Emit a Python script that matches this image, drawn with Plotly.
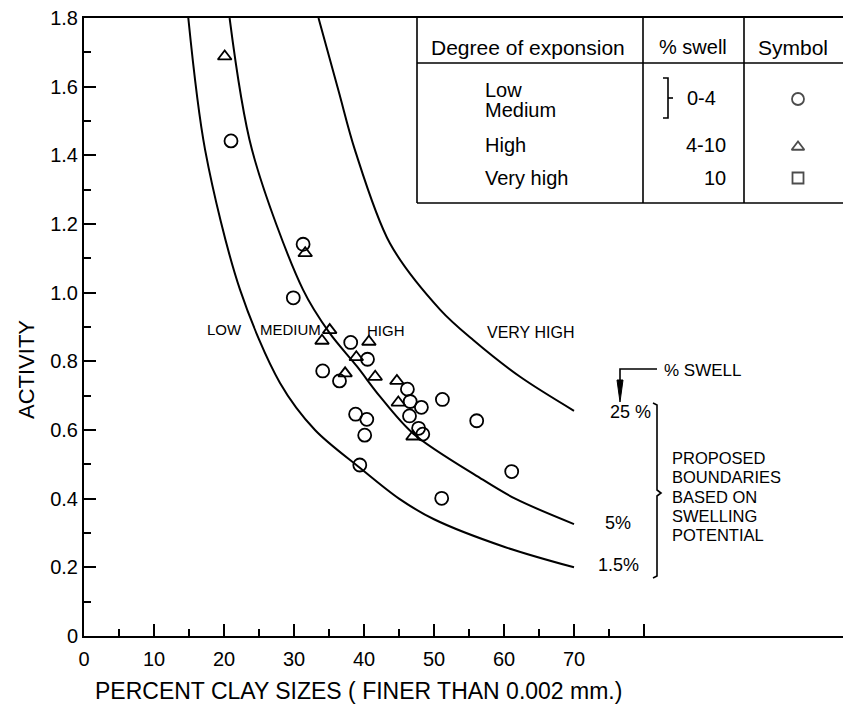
import plotly.graph_objects as go

# ---- swell-potential boundary curves (percent clay, activity) ----
clay_swell_1_5 = [14.9, 17.3, 22.3, 28.0, 33.0, 39.4, 45.0, 50.0, 60.0, 70.0]
act_swell_1_5 = [1.80, 1.416, 1.008, 0.737, 0.60, 0.49, 0.40, 0.34, 0.26, 0.20]

clay_swell_5 = [20.8, 24.0, 31.3, 35.1, 39.0, 42.3, 47.0, 56.6, 61.6, 70.0]
act_swell_5 = [1.80, 1.416, 1.008, 0.882, 0.785, 0.697, 0.590, 0.460, 0.400, 0.326]

clay_swell_25 = [33.5, 36.4, 38.7, 43.7, 50.9, 55.6, 62.3, 70.0]
act_swell_25 = [1.80, 1.585, 1.416, 1.144, 0.950, 0.862, 0.755, 0.656]

# ---- test results ----
# low / medium expansion (circles)
circle_clay = [21.0, 31.3, 29.9, 38.1, 40.5, 34.1, 36.5, 46.2, 46.6, 48.2, 51.2,
               46.5, 38.8, 40.4, 40.1, 47.8, 48.4, 39.4, 56.1, 61.1, 51.1]
circle_act = [1.442, 1.141, 0.985, 0.855, 0.806, 0.772, 0.743, 0.719, 0.683, 0.666, 0.689,
              0.641, 0.646, 0.631, 0.585, 0.605, 0.588, 0.498, 0.627, 0.479, 0.401]
# high expansion (triangles)
tri_clay = [20.1, 31.6, 35.1, 34.0, 40.7, 38.9, 37.3, 41.6, 44.7, 44.9, 47.0]
tri_act = [1.688, 1.115, 0.891, 0.860, 0.857, 0.812, 0.765, 0.755, 0.743, 0.680, 0.581]

# ---- axes ----
x_ticks = [0, 10, 20, 30, 40, 50, 60, 70, 80]
x_tick_text = ["0", "10", "20", "30", "40", "50", "60", "70", ""]
x_minor = [5, 15, 25, 35, 45, 55, 65, 75]
y_ticks = [0, 0.2, 0.4, 0.6, 0.8, 1.0, 1.2, 1.4, 1.6, 1.8]
y_tick_text = ["0", "0.2", "0.4", "0.6", "0.8", "1.0", "1.2", "1.4", "1.6", "1.8"]
y_minor = [0.1, 0.3, 0.5, 0.7, 0.9, 1.1, 1.3, 1.5, 1.7]

# ---- page geometry (pixels) ----
W, H = 843, 707
L, R, T, B = 84, 0, 18, 71
PX_PER_X = 7.0
X_MAX = (W - L - R) / PX_PER_X
Y_MAX = 1.8
PX_PER_Y = (H - T - B) / Y_MAX

FONT = "Liberation Sans, Arial, Helvetica, sans-serif"


def X(px):
    return (px - L) / PX_PER_X


def Y(py):
    return (H - B - py) / PX_PER_Y


def PX(px):
    return (px - L) / (W - L - R)


def PY(py):
    return (H - B - py) / (H - T - B)


def path(points, close=False):
    s = "M " + " L ".join(f"{X(a):.4f},{Y(b):.4f}" for a, b in points)
    return s + (" Z" if close else "")


fig = go.Figure()

line_style = dict(color="black", width=2, shape="spline", smoothing=0.9)
for cx, cy in [(clay_swell_1_5, act_swell_1_5), (clay_swell_5, act_swell_5),
               (clay_swell_25, act_swell_25)]:
    fig.add_trace(go.Scatter(x=cx, y=cy, mode="lines", line=line_style,
                             hoverinfo="skip", showlegend=False))

fig.add_trace(go.Scatter(
    x=circle_clay, y=circle_act, mode="markers", showlegend=False,
    marker=dict(symbol="circle-open", size=13, color="black", line=dict(width=1.8))))
fig.add_trace(go.Scatter(
    x=tri_clay, y=tri_act, mode="markers", showlegend=False,
    marker=dict(symbol="triangle-up-open", size=12, color="black", line=dict(width=1.8))))

# key symbols inside the table
fig.add_trace(go.Scatter(
    x=[X(798), X(798), X(798)], y=[Y(99), Y(147), Y(178)], mode="markers",
    showlegend=False, cliponaxis=False, hoverinfo="skip",
    marker=dict(symbol=["circle-open", "triangle-up-open", "square-open"],
                size=[12, 11, 11], color="black", line=dict(width=1.8))))

shapes = []
lw = dict(color="black", width=1.6)
# table frame
shapes.append(dict(type="line", x0=X(417), x1=X(417), y0=Y(18), y1=Y(203), line=lw))
shapes.append(dict(type="line", x0=X(417), x1=X(843), y0=Y(203), y1=Y(203), line=lw))
shapes.append(dict(type="line", x0=X(417), x1=X(843), y0=Y(63), y1=Y(63), line=lw))
shapes.append(dict(type="line", x0=X(643), x1=X(643), y0=Y(18), y1=Y(203), line=lw))
shapes.append(dict(type="line", x0=X(744), x1=X(744), y0=Y(18), y1=Y(203), line=lw))
# bracket grouping Low / Medium
shapes.append(dict(type="path", path=path([(663, 78), (668, 78), (668, 118), (663, 118)]), line=lw))
shapes.append(dict(type="path", path=path([(668, 98), (673, 98)]), line=lw))
# "% SWELL" pointer
shapes.append(dict(type="path", path=path([(657, 369), (620, 369), (620, 392)]), line=lw))
shapes.append(dict(type="path", path=path([(617, 380), (623, 380), (620, 402)], close=True),
                   line=dict(color="black", width=1), fillcolor="black"))
# brace for the proposed boundaries
shapes.append(dict(type="path",
                   path=path([(653, 403), (657, 405), (657, 490), (661, 493), (657, 496),
                              (657, 576), (653, 578)]), line=lw))

ann = []


def text(px, py, s, size, xanchor="center", yanchor="middle", angle=0, paper=False):
    if paper:
        pos = dict(x=PX(px), y=PY(py), xref="paper", yref="paper")
    else:
        pos = dict(x=X(px), y=Y(py), xref="x", yref="y")
    ann.append(dict(text=s, showarrow=False,
                    xanchor=xanchor, yanchor=yanchor, textangle=angle,
                    font=dict(family=FONT, size=size, color="black"), **pos))


# table text
text(528, 47, "Degree of exponsion", 21)
text(693, 47, "% swell", 20)
text(793, 47, "Symbol", 21)
text(483, 90, "Low", 20, xanchor="left")
text(483, 110, "Medium", 20, xanchor="left")
text(483, 145, "High", 20, xanchor="left")
text(483, 178, "Very high", 20, xanchor="left")
text(701, 98, "0-4", 20)
text(728, 145, "4-10", 20, xanchor="right")
text(728, 178, "10", 20, xanchor="right")

# zone names
text(224, 329, "LOW", 15)
text(290, 329, "MEDIUM", 15)
text(386, 330, "HIGH", 15)
text(530, 332, "VERY HIGH", 16)

# curve labels and notes
text(662, 370, "% SWELL", 17, xanchor="left")
text(630, 412, "25 %", 18)
text(618, 523, "5%", 18)
text(618, 565, "1.5%", 18)
for i, s in enumerate(["PROPOSED", "BOUNDARIES", "BASED ON", "SWELLING", "POTENTIAL"]):
    text(670, 458 + 19.3 * i, s, 16.5, xanchor="left")

# axis titles
text(358, 691, "PERCENT CLAY SIZES ( FINER THAN 0.002 mm.)", 23, paper=True)
text(26, 370, "ACTIVITY", 22, angle=-90, paper=True)

fig.update_layout(
    width=W, height=H, margin=dict(l=L, r=R, t=T, b=B, pad=0),
    paper_bgcolor="white", plot_bgcolor="white",
    font=dict(family=FONT, size=20, color="black"),
    shapes=shapes, annotations=ann, showlegend=False,
    xaxis=dict(range=[0, X_MAX], showgrid=False, zeroline=False,
               showline=True, linecolor="black", linewidth=2, mirror=True,
               ticks="inside", tickvals=x_ticks, ticktext=x_tick_text,
               ticklen=12, tickwidth=1.6, tickcolor="black", ticklabelstandoff=4,
               tickfont=dict(family=FONT, size=20),
               minor=dict(tickvals=x_minor, ticks="inside", ticklen=7,
                          tickwidth=1.6, tickcolor="black")),
    yaxis=dict(range=[0, Y_MAX], showgrid=False, zeroline=False,
               showline=True, linecolor="black", linewidth=2,
               ticks="inside", tickvals=y_ticks, ticktext=y_tick_text,
               ticklen=12, tickwidth=1.6, tickcolor="black", ticklabelstandoff=0,
               tickfont=dict(family=FONT, size=20),
               minor=dict(tickvals=y_minor, ticks="inside", ticklen=7,
                          tickwidth=1.6, tickcolor="black")),
)

fig.write_html("out.html")
